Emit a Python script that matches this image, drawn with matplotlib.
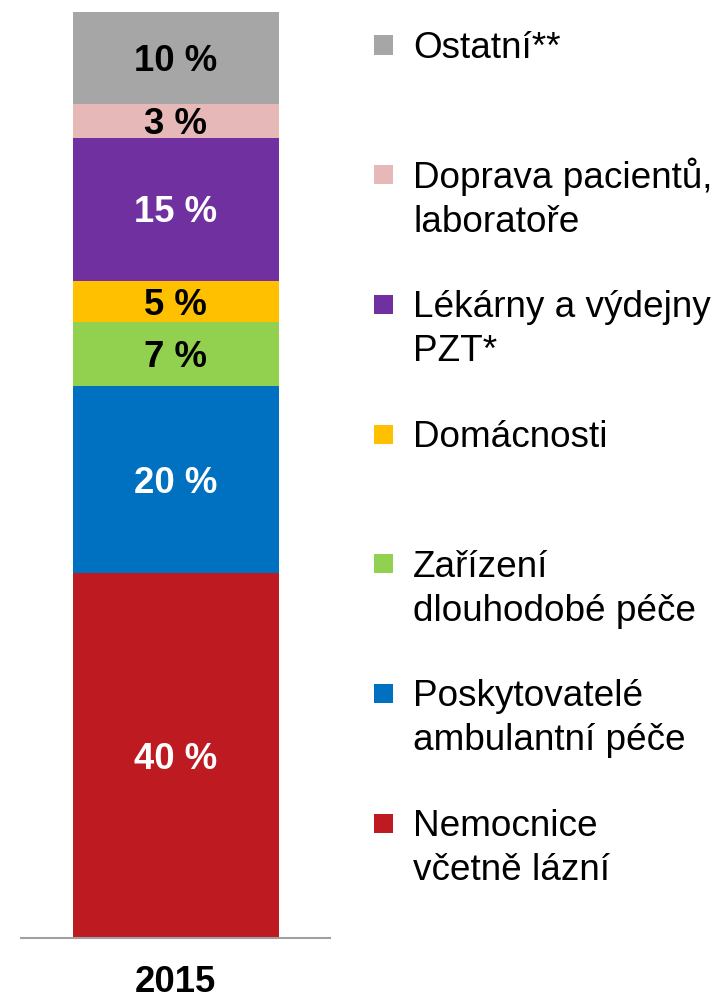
import matplotlib
matplotlib.use('Agg')
from matplotlib import pyplot as plt

# Datos (de abajo hacia arriba)
categorias = ['Nemocnice\nvčetně lázní', 'Poskytovatelé\nambulantní péče',
              'Zařízení\ndlouhodobé péče', 'Domácnosti',
              'Lékárny a výdejny\nPZT*', 'Doprava pacientů,\nlaboratoře', 'Ostatní**']
valores = [39.4, 20.2, 6.9, 4.5, 15.4, 3.7, 9.9]
etiquetas = ['40 %', '20 %', '7 %', '5 %', '15 %', '3 %', '10 %']
colores = ['#be1a22', '#0070c0', '#92d050', '#ffc000', '#7030a0', '#e6b9b8', '#a6a6a6']
color_texto = ['white', 'white', 'black', 'black', 'white', 'black', 'black']
anio = '2015'

plt.rcParams['font.family'] = ['Liberation Sans', 'DejaVu Sans']

W, H = 717, 999
fig = plt.figure(figsize=(W / 100, H / 100), dpi=100)
ax = fig.add_axes([21 / W, 61 / H, 309 / W, 926 / H])

# Barra apilada
base = 0
for v, c, lab, tc in zip(valores, colores, etiquetas, color_texto):
    ax.bar(0, v, bottom=base, width=1.0, color=c, linewidth=0)
    ax.annotate(lab, (0, base + v / 2), xytext=(0, -9.5), textcoords='offset points',
                ha='center', va='baseline', fontsize=26.3, fontweight='bold', color=tc)
    base += v

ax.set_xlim(-0.75, 0.75)
ax.set_ylim(0, sum(valores))
for s in ['top', 'right', 'left']:
    ax.spines[s].set_visible(False)
ax.spines['bottom'].set_color('#a0a0a0')
ax.spines['bottom'].set_linewidth(1.5)
ax.set_yticks([])
ax.set_xticks([0])
ax.set_xticklabels([anio], fontsize=26.3, fontweight='bold')
ax.tick_params(axis='x', length=0, pad=19.5)

# Leyenda (de arriba hacia abajo), una línea de texto a la vez
for i, (cat, c) in enumerate(zip(categorias[::-1], colores[::-1])):
    yc = 45 + i * 129.7
    fig.patches.append(plt.Rectangle((374 / W, 1 - (yc + 9.5) / H), 19 / W, 19 / H,
                                     transform=fig.transFigure, color=c, linewidth=0))
    for j, linea in enumerate(cat.split('\n')):
        fig.text(413 / W, 1 - (yc + 13 + j * 44) / H, linea, ha='left',
                 va='baseline', fontsize=26.6, color='black')

plt.savefig('out.png', dpi=100)
